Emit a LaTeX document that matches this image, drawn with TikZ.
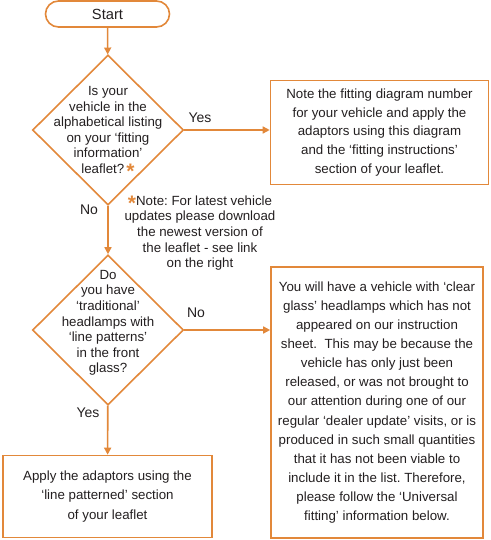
\documentclass[tikz,border=0pt]{standalone}
\usepackage{fontspec}
\setmainfont{Liberation Sans}
\usetikzlibrary{arrows.meta,positioning,shapes.geometric}
\definecolor{rim}{HTML}{E2883A}
\definecolor{ink}{HTML}{231F20}
\newcommand{\ostar}{\smash{\raisebox{-5pt}{\textcolor{rim}{\fontsize{21}{21}\selectfont\bfseries *}}}}
\frenchspacing
\tikzset{
  term/.style={draw=rim,rounded corners=13pt,line width=1.6pt,minimum width=124pt,
               minimum height=26pt,font=\fontsize{14.7}{17}\selectfont,text=ink},
  decision/.style={diamond,draw=rim,line width=1.6pt,minimum width=151pt,
                   minimum height=150pt,inner sep=0pt},
  qtext/.style={align=center,font=\fontsize{13.3}{15.6}\selectfont,text=ink,inner sep=0pt},
  panel/.style={draw=rim,line width=1.6pt,align=center,text=ink,inner sep=0pt},
  flow/.style={-{Triangle[length=7pt,width=7pt]},line width=1.6pt,color=rim},
  lbl/.style={font=\fontsize{14}{16}\selectfont,text=ink,inner sep=0pt},
}

\begin{document}
\begin{tikzpicture}[x=1pt,y=-1pt]
  \useasboundingbox (0,0) rectangle (490,540);
  \node[term] (s) at (107.5,14) {Start};
  \node[decision] (q1) at (108,130) {};
  \node[qtext] (q1t) at (108,130) {Is your\\vehicle in the\\alphabetical listing\\on your ‘fitting\\information’\\leaflet?\,\ostar};
  \node[panel,minimum width=218pt,minimum height=104pt,font=\fontsize{13.3}{18.8}\selectfont] (fit) at (379.5,132.5)
    {Note the fitting diagram number\\for your vehicle and apply the\\adaptors using this diagram\\and the ‘fitting instructions’\\section of your leaflet.};
  \node[qtext] (note) at (200,233) {\ostar Note: For latest vehicle\\updates please download\\the newest version of\\the leaflet - see link\\on the right};
  \node[decision] (q2) at (108,330) {};
  \node[qtext] (q2t) at (108,323) {Do\\you have\\‘traditional’\\headlamps with\\‘line patterns’\\in the front\\glass?};
  \node[panel,minimum width=212pt,minimum height=271pt,font=\fontsize{13.3}{19.1}\selectfont] (clear) at (377,402.5)
    {You will have a vehicle with ‘clear\\glass’ headlamps which has not\\appeared on our instruction\\sheet.\ \ This may be because the\\vehicle has only just been\\released, or was not brought to\\our attention during one of our\\regular ‘dealer update’ visits, or is\\produced in such small quantities\\that it has not been viable to\\include it in the list. Therefore,\\please follow the ‘Universal\\fitting’ information below.};
  \node[panel,minimum width=209pt,minimum height=82pt,font=\fontsize{13.3}{19.3}\selectfont] (lp) at (107.5,496.5)
    {Apply the adaptors using the\\‘line patterned’ section\\of your leaflet};
  \node[lbl] (y1) at (200,118) {Yes};
  \node[lbl] (n1) at (89,210) {No};
  \node[lbl] (n2) at (196,313) {No};
  \node[lbl] (y2) at (88,413) {Yes};
  \draw[flow] (s) -- (q1);
  \draw[flow] (q1.east) -- (q1.east -| fit.west);
  \draw[flow] (q1) -- (q2);
  \draw[flow] (q2.east) -- (q2.east -| clear.west);
  \draw[flow] (q2) -- (lp);
\end{tikzpicture}
\end{document}
